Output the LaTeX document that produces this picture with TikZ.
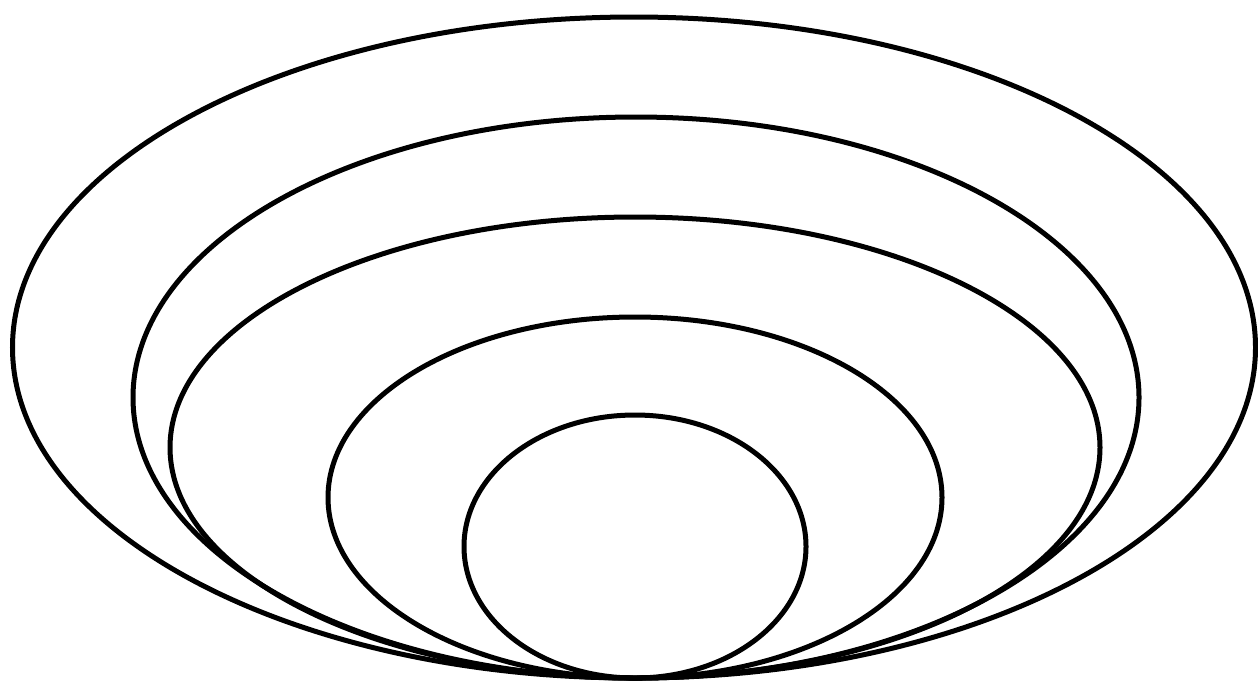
\documentclass[tikz,border=0pt]{standalone}
\usepackage{tikz}
\usetikzlibrary{calc}

\begin{document}
\begin{tikzpicture}[x=0.01cm, y=-0.01cm, ring/.style={draw=black, line width=0.5mm}]
  \useasboundingbox (0,0) rectangle (1258,684);
  % Nested ellipses, all touching at the bottom
  \foreach \cx/\rx/\ry in {634/621.5/330.5, 636/503/280.5, 635/465/230.5, 635/307/180.5, 635/171/131.5} {
    \draw[ring] (\cx,678-\ry) ellipse [x radius=\rx, y radius=\ry];
  }
\end{tikzpicture}
\end{document}
